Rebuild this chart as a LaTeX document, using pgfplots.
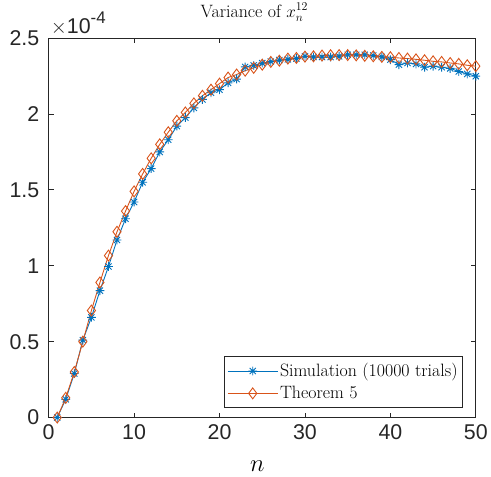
\documentclass[border=0pt]{standalone}
\usepackage{pgfplots}
\pgfplotsset{compat=1.18}
\usepackage{fontspec}
\newfontfamily\hv{Liberation Sans}
\definecolor{mblue}{rgb}{0,0.447,0.741}
\definecolor{morange}{rgb}{0.85,0.325,0.098}
\definecolor{axgray}{rgb}{0.15,0.15,0.15}
\pgfdeclareplotmark{mstar}{%
  \pgfpathmoveto{\pgfqpoint{-\pgfplotmarksize}{0pt}}\pgfpathlineto{\pgfqpoint{\pgfplotmarksize}{0pt}}%
  \pgfpathmoveto{\pgfqpoint{0pt}{-\pgfplotmarksize}}\pgfpathlineto{\pgfqpoint{0pt}{\pgfplotmarksize}}%
  \pgfpathmoveto{\pgfqpoint{-0.7071\pgfplotmarksize}{-0.7071\pgfplotmarksize}}\pgfpathlineto{\pgfqpoint{0.7071\pgfplotmarksize}{0.7071\pgfplotmarksize}}%
  \pgfpathmoveto{\pgfqpoint{-0.7071\pgfplotmarksize}{0.7071\pgfplotmarksize}}\pgfpathlineto{\pgfqpoint{0.7071\pgfplotmarksize}{-0.7071\pgfplotmarksize}}%
  \pgfusepathqstroke}
\pgfplotstableread{
n v
1 0
2 0.12
3 0.29
4 0.51
5 0.66
6 0.836
7 0.995
8 1.17
9 1.31
10 1.42
11 1.55
12 1.64
13 1.75
14 1.83
15 1.92
16 1.976
17 2.04
18 2.096
19 2.14
20 2.16
21 2.205
22 2.23
23 2.31
24 2.32
25 2.335
26 2.345
27 2.355
28 2.36
29 2.365
30 2.38
31 2.375
32 2.375
33 2.375
34 2.38
35 2.39
36 2.39
37 2.39
38 2.385
39 2.376
40 2.358
41 2.325
42 2.336
43 2.33
44 2.308
45 2.315
46 2.308
47 2.30
48 2.28
49 2.264
50 2.249
}\simdata
\pgfplotstableread{
n v
1 0
2 0.13
3 0.30
4 0.50
5 0.705
6 0.89
7 1.067
8 1.224
9 1.36
10 1.49
11 1.605
12 1.708
13 1.80
14 1.88
15 1.955
16 2.01
17 2.07
18 2.12
19 2.16
20 2.20
21 2.24
22 2.26
23 2.285
24 2.304
25 2.325
26 2.343
27 2.351
28 2.365
29 2.369
30 2.378
31 2.38
32 2.385
33 2.387
34 2.388
35 2.388
36 2.386
37 2.383
38 2.38
39 2.376
40 2.374
41 2.369
42 2.365
43 2.36
44 2.354
45 2.347
46 2.343
47 2.336
48 2.33
49 2.321
50 2.315
}\thmdata
\begin{document}
\begin{tikzpicture}
\begin{axis}[
  name=main,
  scale only axis, width=430pt, height=382pt,
  clip=false,
  xmin=0, xmax=50, ymin=0, ymax=2.5,
  xtick={0,10,20,30,40,50}, xticklabels={0,10,20,30,40,50},
  ytick={0,0.5,1,1.5,2,2.5}, yticklabels={0,0.5,1,1.5,2,2.5},
  tick align=inside, major tick length=5pt,
  axis line style={axgray, line width=0.8pt},
  tick style={axgray, line width=0.8pt},
  tick label style={font=\hv\fontsize{21.5}{25}\selectfont, text=axgray},
  xticklabel style={yshift=-4pt},
  yticklabel style={xshift=-6pt},
  title={Variance of $x_n^{12}$},
  title style={font=\fontsize{18}{21}\selectfont, at={(axis description cs:0.5,1)},
    anchor=base, yshift=15pt, xshift=-8pt},
  xlabel={$n$},
  xlabel style={font=\fontsize{27}{30}\selectfont, at={(axis description cs:0.5,0)},
    anchor=base, yshift=-54pt, xshift=-5pt},
  legend cell align=left,
  legend style={at={(0.970,0.026)}, anchor=south east,
    font=\fontsize{18}{21}\selectfont, draw=axgray, line width=0.8pt,
    inner xsep=3pt, inner ysep=5pt, row sep=4pt, nodes={inner sep=2pt}},
  legend image code/.code={%
    \draw[mark repeat=2, mark phase=2] plot coordinates {(0pt,0pt) (25pt,0pt) (50pt,0pt)};},
]
\addplot[color=mblue, line width=0.9pt, mark=mstar, mark size=4.4pt,
  mark options={solid, line width=0.9pt}] table[x=n, y=v] {\simdata};
\addlegendentry{Simulation (10000 trials)}
\addplot[color=morange, line width=0.9pt, mark=diamond, mark size=5.5pt,
  mark options={solid, line width=0.9pt, fill=none}] table[x=n, y=v] {\thmdata};
\addlegendentry{Theorem 5}
\node[anchor=base west, font=\hv\fontsize{21.5}{25}\selectfont, text=axgray, inner sep=0pt]
  at ([xshift=2pt, yshift=5pt]rel axis cs:0,1) {$\times$10\raisebox{0.45em}{\fontsize{17}{20}\selectfont -4}};
\end{axis}
\path ([xshift=-49pt,yshift=-59pt]main.south west) rectangle ([xshift=12pt,yshift=35pt]main.north east);
\end{tikzpicture}
\end{document}
